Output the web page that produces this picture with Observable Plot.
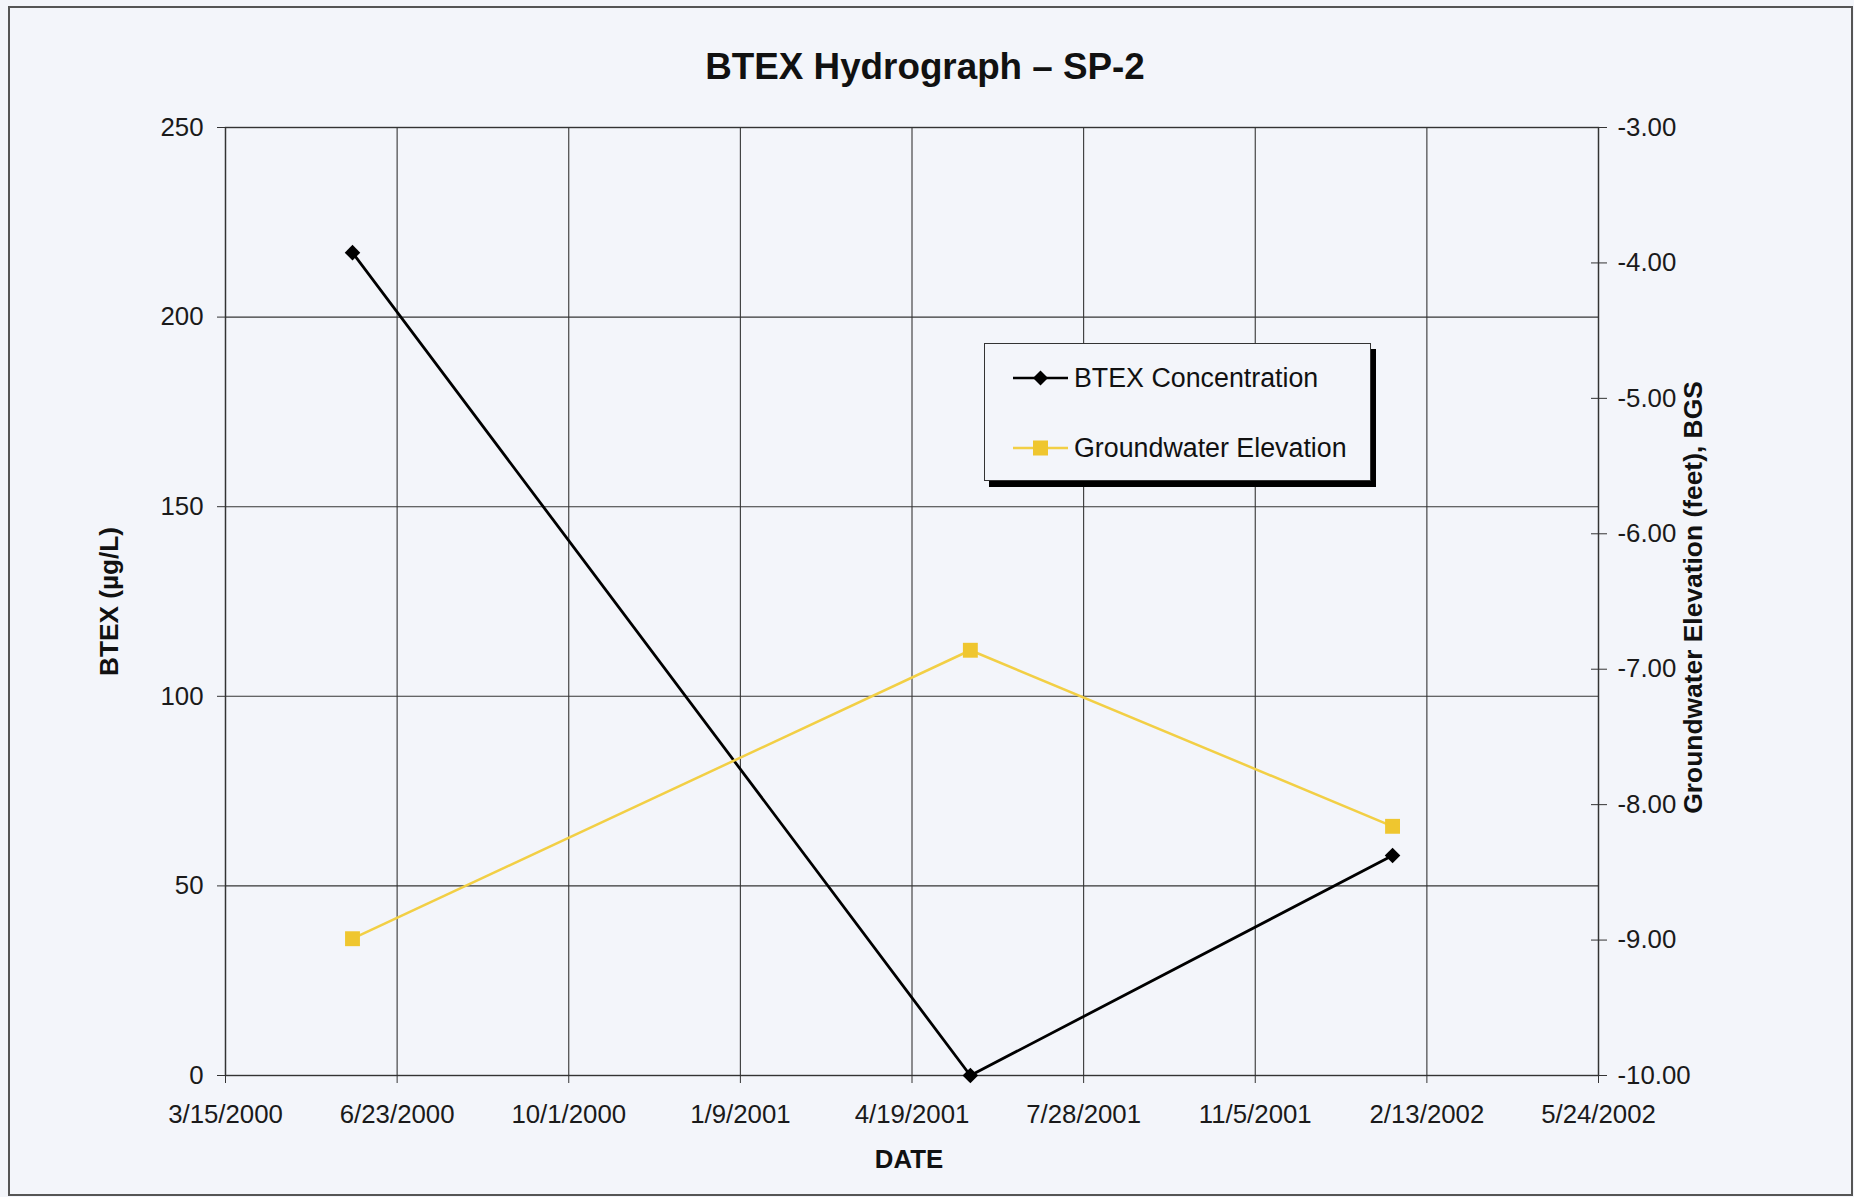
<!DOCTYPE html>
<html>
<head>
<meta charset="utf-8">
<script src="https://cdn.jsdelivr.net/npm/d3@7"></script>
<script src="https://cdn.jsdelivr.net/npm/@observablehq/plot@0.6"></script>
<style>
  body { margin: 0; background: #f3f5fa; }
  #chart { position: relative; width: 1854px; height: 1197px; background: #f3f5fa; font-family: "Liberation Sans", Arial, sans-serif; overflow: hidden; }
  #frame { position: absolute; left: 8px; top: 6px; width: 1845px; height: 1190px; box-sizing: border-box; border: 2px solid #555; pointer-events: none; }
  #plot { position: absolute; left: 0; top: 0; }
  #legend { position: absolute; left: 984px; top: 343px; width: 387px; height: 138px; box-sizing: border-box;
            border: 1.5px solid #333; background: #f3f5fa; box-shadow: 5px 6px 0 #000; }
  .item { position: absolute; left: 27px; height: 30px; display: flex; align-items: center; font-size: 26.8px; color: #111; }
  .item svg { margin-right: 5px; }
</style>
</head>
<body>
<div id="chart">
  <div id="plot"></div>
  <div id="legend">
    <div class="item" style="top:19px">
      <svg width="57" height="20"><line x1="1" x2="56" y1="10" y2="10" stroke="#000" stroke-width="2.6"/><path d="M28.5,2.5 L36,10 L28.5,17.5 L21,10 Z" fill="#000"/></svg>
      <span>BTEX Concentration</span>
    </div>
    <div class="item" style="top:89px">
      <svg width="57" height="20"><line x1="1" x2="56" y1="10" y2="10" stroke="#f2cf45" stroke-width="2.5"/><rect x="21" y="2.5" width="15" height="15" fill="#efc62f"/></svg>
      <span>Groundwater Elevation</span>
    </div>
  </div>
  <div id="frame"></div>
</div>
<script>
// Sampling events at monitoring point SP-2
const sampleDates = ["2000-05-28", "2001-05-23", "2002-01-24"];
const btexConcentration = [217, 0, 58];            // µg/L
const groundwaterElevation = [-8.99, -6.86, -8.16]; // feet, BGS

// Axis ticks
const dateTicks = ["2000-03-15", "2000-06-23", "2000-10-01", "2001-01-09", "2001-04-19",
                   "2001-07-28", "2001-11-05", "2002-02-13", "2002-05-24"];
const btexTicks = [0, 50, 100, 150, 200, 250];
const elevationTicks = [-3, -4, -5, -6, -7, -8, -9, -10];

const parse = d3.utcParse("%Y-%m-%d");
const fmtDate = d3.utcFormat("%-m/%-d/%Y");

// Secondary axis: elevation [-10, -3] shares the primary BTEX range [0, 250]
const elevMin = -10, elevMax = -3, btexMax = 250;
const toPrimary = (e) => (e - elevMin) / (elevMax - elevMin) * btexMax;
const fromPrimary = (v) => elevMin + v / btexMax * (elevMax - elevMin);

const dates = dateTicks.map(parse);
const btex = sampleDates.map((d, i) => ({date: parse(d), value: btexConcentration[i]}));
const water = sampleDates.map((d, i) => ({date: parse(d), value: groundwaterElevation[i]}));

const grid = "#353535";
const yellowLine = "#f2cf45";
const yellowMark = "#efc62f";

const chart = Plot.plot({
  width: 1854,
  height: 1197,
  marginTop: 127,
  marginBottom: 122,
  marginLeft: 225,
  marginRight: 256,
  style: {background: "transparent", fontFamily: "'Liberation Sans', Arial, sans-serif", color: "#1a1a1a"},
  x: {type: "utc", domain: [dates[0], dates[dates.length - 1]]},
  y: {domain: [0, btexMax]},
  marks: [
    Plot.gridY(btexTicks, {stroke: grid, strokeOpacity: 1, strokeWidth: 1.1}),
    Plot.gridX(dates, {stroke: grid, strokeOpacity: 1, strokeWidth: 1.1}),
    Plot.frame({stroke: "#333", strokeWidth: 1.4}),
    Plot.axisX(dates, {tickSize: 8, tickPadding: 21, tickFormat: fmtDate, fontSize: 25.8, label: null, stroke: "#333"}),
    Plot.axisY(btexTicks, {anchor: "left", tickSize: 8, tickPadding: 14, fontSize: 25.8, label: null, stroke: "#333"}),
    Plot.axisY(elevationTicks.map(toPrimary), {
      anchor: "right", tickSize: 16, dx: -8, tickPadding: 11, fontSize: 25.8, label: null, stroke: "#333",
      tickFormat: (v) => (Math.round(fromPrimary(v) * 100) / 100).toFixed(2)
    }),

    // BTEX concentration (primary axis)
    Plot.line(btex, {x: "date", y: "value", stroke: "#000", strokeWidth: 2.8}),
    Plot.dot(btex, {x: "date", y: "value", symbol: "diamond2", r: 7, fill: "#000", stroke: "none"}),

    // Groundwater elevation (secondary axis)
    Plot.line(water, {x: "date", y: (d) => toPrimary(d.value), stroke: yellowLine, strokeWidth: 2.5}),
    Plot.dot(water, {x: "date", y: (d) => toPrimary(d.value), symbol: "square", r: 8.4, fill: yellowMark, stroke: "none"}),

    // Titles
    Plot.text(["BTEX Hydrograph \u2013 SP-2"], {text: (d) => d, frameAnchor: "top", textAnchor: "middle", dx: 13, dy: -60, lineAnchor: "middle",
      fontSize: 36.8, fontWeight: "bold", fill: "#111"}),
    Plot.text(["DATE"], {text: (d) => d, frameAnchor: "bottom", textAnchor: "middle", dx: -3, dy: 84, lineAnchor: "middle",
      fontSize: 25.8, fontWeight: "bold", fill: "#111"}),
    Plot.text(["BTEX (\u00b5g/L)"], {text: (d) => d, frameAnchor: "left", textAnchor: "middle", dx: -116, rotate: -90, lineAnchor: "middle",
      fontSize: 26.2, fontWeight: "bold", fill: "#111"}),
    Plot.text(["Groundwater Elevation (feet), BGS"], {text: (d) => d, frameAnchor: "right", textAnchor: "middle", dx: 95, dy: -4, rotate: -90, lineAnchor: "middle",
      fontSize: 26.4, fontWeight: "bold", fill: "#111"})
  ]
});

document.getElementById("plot").append(chart);
</script>
</body>
</html>
